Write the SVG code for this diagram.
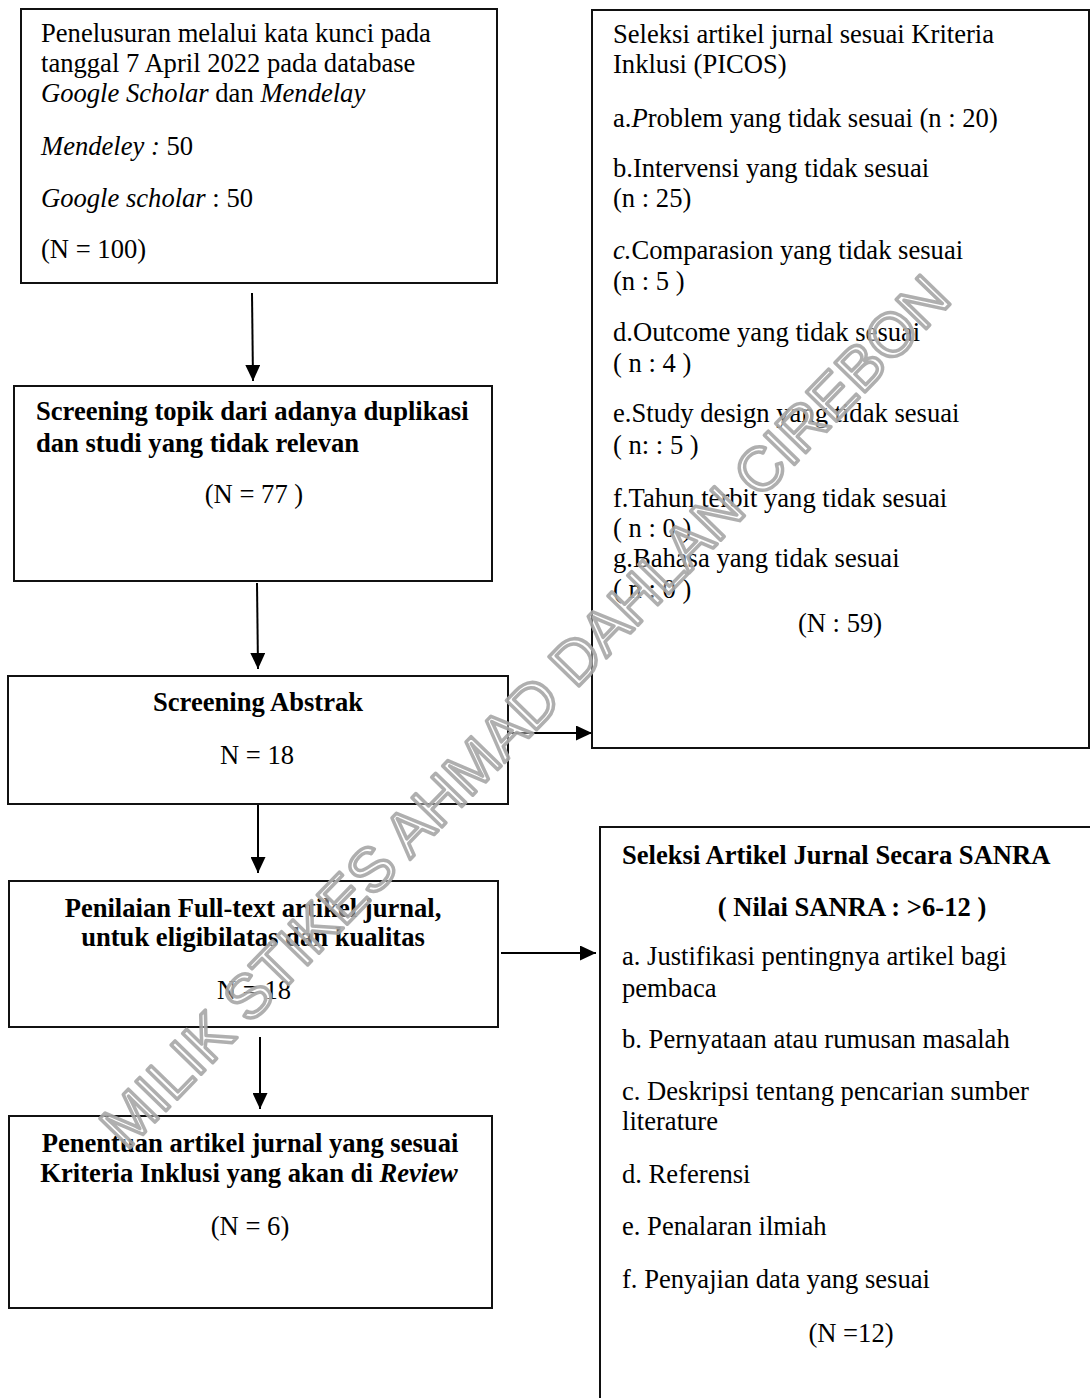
<svg xmlns="http://www.w3.org/2000/svg" width="1090" height="1398" viewBox="0 0 1090 1398">
<style>
  .box { fill: #ffffff; stroke: #111111; stroke-width: 2; }
  .t { font-family: "Liberation Serif", "Times New Roman", serif; font-size: 26.6px; fill: #000000; }
  .b { font-weight: bold; }
  .i { font-style: italic; }
  .c { text-anchor: middle; }
  .conn { stroke: #000000; stroke-width: 2; fill: none; marker-end: url(#arr); }
  .wm { font-family: "Liberation Sans", Arial, sans-serif; font-size: 61px; fill: #ffffff; fill-opacity: 0.4; stroke: #a6a6a6; stroke-opacity: 0.9; stroke-width: 3.5; stroke-linejoin: round; text-anchor: middle; }
</style>
<defs>
  <marker id="arr" markerUnits="userSpaceOnUse" markerWidth="16" markerHeight="15" refX="16" refY="7.5" orient="auto">
    <path d="M0,0 L16,7.5 L0,15 z" fill="#000000"/>
  </marker>
</defs>
<rect x="0" y="0" width="1090" height="1398" fill="#ffffff"/>

<g id="connectors">
  <line class="conn" x1="252" y1="293" x2="253" y2="381"/>
  <line class="conn" x1="257" y1="583" x2="258" y2="669"/>
  <line class="conn" x1="258" y1="805" x2="258" y2="873"/>
  <line class="conn" x1="260" y1="1037" x2="260" y2="1109"/>
  <line class="conn" x1="506" y1="733" x2="592" y2="733"/>
  <line class="conn" x1="501" y1="953" x2="596" y2="953"/>
</g>

<g id="node-penelusuran">
  <rect class="box" x="21" y="9" width="476" height="274"/>
  <text class="t" x="41" y="42">Penelusuran melalui kata kunci pada</text>
  <text class="t" x="41" y="72">tanggal 7 April 2022 pada database</text>
  <text class="t" x="41" y="102"><tspan class="i">Google Scholar</tspan> dan <tspan class="i">Mendelay</tspan></text>
  <text class="t" x="41" y="155"><tspan class="i">Mendeley :</tspan> 50</text>
  <text class="t" x="41" y="207"><tspan class="i">Google scholar</tspan> : 50</text>
  <text class="t" x="41" y="258">(N = 100)</text>
</g>

<g id="node-screening-topik">
  <rect class="box" x="14" y="386" width="478" height="195"/>
  <text class="t b" x="36" y="420">Screening topik dari adanya duplikasi</text>
  <text class="t b" x="36" y="452">dan studi yang tidak relevan</text>
  <text class="t c" x="254" y="503">(N = 77 )</text>
</g>

<g id="node-screening-abstrak">
  <rect class="box" x="8" y="676" width="500" height="128"/>
  <text class="t b c" x="258" y="711">Screening Abstrak</text>
  <text class="t c" x="257" y="764">N = 18</text>
</g>

<g id="node-fulltext">
  <rect class="box" x="9" y="881" width="489" height="146"/>
  <text class="t b c" x="253" y="917">Penilaian Full-text artikel jurnal,</text>
  <text class="t b c" x="253" y="946">untuk eligibilatas dan kualitas</text>
  <text class="t c" x="254" y="999">N = 18</text>
</g>

<g id="node-penentuan">
  <rect class="box" x="9" y="1116" width="483" height="192"/>
  <text class="t b c" x="250" y="1152">Penentuan artikel jurnal yang sesuai</text>
  <text class="t b c" x="249" y="1182">Kriteria Inklusi yang akan di <tspan class="i">Review</tspan></text>
  <text class="t c" x="250" y="1235">(N = 6)</text>
</g>

<g id="node-picos">
  <rect class="box" x="592" y="10" width="497" height="738"/>
  <text class="t" x="613" y="43">Seleksi artikel jurnal sesuai Kriteria</text>
  <text class="t" x="613" y="73">Inklusi (PICOS)</text>
  <text class="t" x="613" y="127">a.<tspan class="i">P</tspan>roblem yang tidak sesuai (n : 20)</text>
  <text class="t" x="613" y="177">b.Intervensi yang tidak sesuai</text>
  <text class="t" x="613" y="207">(n : 25)</text>
  <text class="t" x="613" y="259"><tspan class="i">c.</tspan>Comparasion yang tidak sesuai</text>
  <text class="t" x="613" y="290">(n : 5 )</text>
  <text class="t" x="613" y="341">d.Outcome yang tidak sesuai</text>
  <text class="t" x="613" y="372">( n : 4 )</text>
  <text class="t" x="613" y="422">e.Study design yang tidak sesuai</text>
  <text class="t" x="613" y="454">( n: : 5 )</text>
  <text class="t" x="613" y="507">f.Tahun terbit yang tidak sesuai</text>
  <text class="t" x="613" y="537">( n : 0 )</text>
  <text class="t" x="613" y="567">g.Bahasa yang tidak sesuai</text>
  <text class="t" x="613" y="598">( n : 0 )</text>
  <text class="t c" x="840" y="632">(N : 59)</text>
</g>

<g id="node-sanra">
  <path d="M1090,827 L600,827 L600,1398" fill="none" stroke="#111111" stroke-width="2"/>
  <text class="t b" x="622" y="864">Seleksi Artikel Jurnal Secara SANRA</text>
  <text class="t b c" x="852" y="916">( Nilai SANRA : &gt;6-12 )</text>
  <text class="t" x="622" y="965">a. Justifikasi pentingnya artikel bagi</text>
  <text class="t" x="622" y="997">pembaca</text>
  <text class="t" x="622" y="1048">b. Pernyataan atau rumusan masalah</text>
  <text class="t" x="622" y="1100">c. Deskripsi tentang pencarian sumber</text>
  <text class="t" x="622" y="1130">literature</text>
  <text class="t" x="622" y="1183">d. Referensi</text>
  <text class="t" x="622" y="1235">e. Penalaran ilmiah</text>
  <text class="t" x="622" y="1288">f. Penyajian data yang sesuai</text>
  <text class="t c" x="851" y="1342">(N =12)</text>
</g>

<g id="watermark">
  <text class="wm" transform="translate(540,726) rotate(-45.8)">MILIK STIKES AHMAD DAHLAN CIREBON</text>
</g>
</svg>
